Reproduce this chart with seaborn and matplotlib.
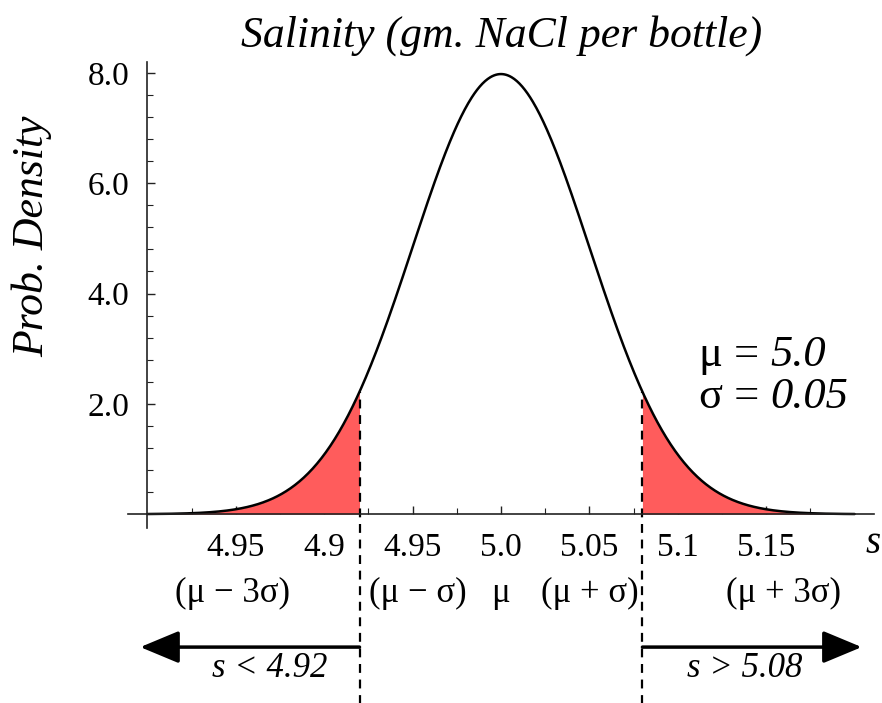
import numpy as np
import pandas as pd
import matplotlib
matplotlib.use('Agg')
import matplotlib.pyplot as plt
import seaborn as sns

# Distribution shown in the chart
MU = 5.0
SIGMA = 0.05
LOWER_LIMIT = 4.92
UPPER_LIMIT = 5.08
S_MIN, S_MAX = 4.8, 5.2

# Axis ticks and labels (the first label is "4.95" in the original)
x_tick_pos = [4.85, 4.9, 4.95, 5.0, 5.05, 5.1, 5.15]
x_tick_labels = ['4.95', '4.9', '4.95', '5.0', '5.05', '5.1', '5.15']
y_tick_pos = [2, 4, 6, 8]
y_tick_labels = ['2.0', '4.0', '6.0', '8.0']
sigma_pos = [4.848, 4.953, 5.0, 5.05, 5.16]
sigma_labels = ['(μ − 3σ)', '(μ − σ)', 'μ', '(μ + σ)', '(μ + 3σ)']


def normal_pdf(s):
    return np.exp(-0.5 * ((s - MU) / SIGMA) ** 2) / (SIGMA * np.sqrt(2 * np.pi))


sns.set_style('ticks')
plt.rcParams['font.family'] = ['Liberation Serif', 'DejaVu Serif']
plt.rcParams['text.color'] = 'black'

s = np.linspace(S_MIN, S_MAX, 801)
curve = pd.DataFrame({'s': s, 'density': normal_pdf(s)})

fig = plt.figure(figsize=(8.82, 7.03), dpi=100)
ax = fig.add_axes([0.145, 0.249, 0.846, 0.663])

# shaded tails
left = np.linspace(S_MIN, LOWER_LIMIT, 200)
right = np.linspace(UPPER_LIMIT, S_MAX, 200)
ax.fill_between(left, 0, normal_pdf(left), color='#ff5c5c', lw=0)
ax.fill_between(right, 0, normal_pdf(right), color='#ff5c5c', lw=0)

sns.lineplot(data=curve, x='s', y='density', ax=ax, color='black', lw=1.8)

# dashed limit lines running down below the axis
for lim in [LOWER_LIMIT, UPPER_LIMIT]:
    ax.plot([lim, lim], [-3.5, normal_pdf(lim)], color='black', lw=1.6,
            ls=(0, (4, 3)), clip_on=False)

ax.set_xlim(4.789, 5.211)
ax.set_ylim(-0.25, 8.2)

ax.spines['left'].set_position(('data', S_MIN))
ax.spines['bottom'].set_position(('data', 0))
ax.spines['top'].set_visible(False)
ax.spines['right'].set_visible(False)
for sp in ['left', 'bottom']:
    ax.spines[sp].set_linewidth(1.2)
    ax.spines[sp].set_color('#222222')

ax.set_xticks(x_tick_pos)
ax.set_xticklabels(x_tick_labels)
ax.set_xticks(np.arange(4.825, 5.2, 0.025), minor=True)
ax.set_yticks(y_tick_pos)
ax.set_yticklabels(y_tick_labels)
ax.set_yticks(np.arange(0.4, 8.1, 0.4), minor=True)
ax.tick_params(axis='both', which='major', direction='in', length=6, width=1,
               labelsize=24, pad=13, color='#222222', labelcolor='black')
ax.tick_params(axis='both', which='minor', direction='in', length=4, width=0.8,
               color='#222222')
ax.set_xlabel('')
ax.set_ylabel('')

for xp, lab in zip(sigma_pos, sigma_labels):
    ax.text(xp, -1.43, lab, ha='center', va='center', fontsize=25)

ax.text(5.2105, -0.53, 's', style='italic', ha='center', va='center', fontsize=28)

# range arrows
arrow_y = -2.41
arrow_style = '-|>,head_length=1.2,head_width=0.5'
ax.annotate('', xy=(4.796, arrow_y), xytext=(LOWER_LIMIT, arrow_y),
            arrowprops=dict(arrowstyle=arrow_style, mutation_scale=20, lw=2.5,
                            color='black', shrinkA=0, shrinkB=0),
            annotation_clip=False)
ax.annotate('', xy=(5.204, arrow_y), xytext=(UPPER_LIMIT, arrow_y),
            arrowprops=dict(arrowstyle=arrow_style, mutation_scale=20, lw=2.5,
                            color='black', shrinkA=0, shrinkB=0),
            annotation_clip=False)
ax.text(4.869, -2.8, 's < 4.92', style='italic', ha='center', va='center', fontsize=25)
ax.text(5.138, -2.8, 's > 5.08', style='italic', ha='center', va='center', fontsize=25)

# parameter box: upright symbol, italic value
for ypos, sym, val in [(2.89, 'μ = ', '5.0'), (2.12, 'σ = ', '0.05')]:
    t = ax.text(5.112, ypos, sym, ha='left', va='center', fontsize=32)
    ax.annotate(val, xy=(1, 0), xycoords=t, ha='left', va='bottom',
                fontsize=32, style='italic')

fig.text(502 / 882, 1 - 36 / 703, 'Salinity (gm. NaCl per bottle)', style='italic',
         ha='center', va='center', fontsize=31.5)
fig.text(32 / 882, 1 - 236 / 703, 'Prob. Density', style='italic', rotation=90,
         ha='center', va='center', fontsize=31.5)

fig.savefig('out.png', dpi=100)
